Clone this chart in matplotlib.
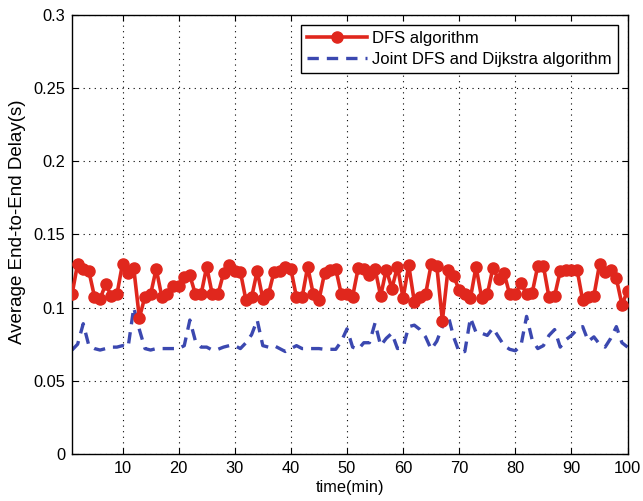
import matplotlib
matplotlib.use("Agg")
import matplotlib.pyplot as plt
from matplotlib.ticker import FixedLocator, FixedFormatter

plt.rcParams['font.family'] = ['Liberation Sans', 'DejaVu Sans']

time_min = list(range(1, 101))

dfs_delay = [
    0.109, 0.130, 0.1265, 0.125, 0.1075, 0.106, 0.116, 0.108, 0.109, 0.130,
    0.124, 0.127, 0.093, 0.1075, 0.109, 0.1265, 0.1075, 0.109, 0.1145, 0.115,
    0.121, 0.122, 0.109, 0.109, 0.128, 0.109, 0.109, 0.1235, 0.129, 0.125,
    0.1245, 0.105, 0.107, 0.125, 0.106, 0.109, 0.1245, 0.125, 0.128, 0.1265,
    0.107, 0.107, 0.128, 0.109, 0.105, 0.1235, 0.126, 0.1265, 0.109, 0.109,
    0.1075, 0.127, 0.1265, 0.1225, 0.1265, 0.108, 0.126, 0.113, 0.128, 0.1065,
    0.129, 0.104, 0.1075, 0.109, 0.1295, 0.1285, 0.091, 0.126, 0.1215, 0.112,
    0.109, 0.1065, 0.128, 0.1065, 0.109, 0.127, 0.1195, 0.1235, 0.109, 0.109,
    0.117, 0.109, 0.110, 0.1285, 0.1285, 0.107, 0.108, 0.125, 0.126, 0.126,
    0.126, 0.105, 0.1075, 0.108, 0.1295, 0.1245, 0.126, 0.120, 0.102, 0.1115,
]

joint_delay = [
    0.071, 0.075, 0.089, 0.074, 0.072, 0.071, 0.072, 0.073, 0.073, 0.074,
    0.073, 0.100, 0.085, 0.072, 0.071, 0.072, 0.072, 0.072, 0.072, 0.072,
    0.074, 0.0915, 0.077, 0.073, 0.073, 0.071, 0.0715, 0.073, 0.074, 0.074,
    0.072, 0.076, 0.0815, 0.0915, 0.074, 0.073, 0.074, 0.072, 0.070, 0.072,
    0.074, 0.072, 0.072, 0.072, 0.072, 0.0715, 0.0715, 0.0715, 0.077, 0.0855,
    0.073, 0.0715, 0.076, 0.076, 0.0895, 0.074, 0.079, 0.0825, 0.072, 0.073,
    0.087, 0.088, 0.085, 0.080, 0.0715, 0.077, 0.087, 0.095, 0.080, 0.0695,
    0.070, 0.093, 0.083, 0.0825, 0.081, 0.086, 0.080, 0.074, 0.0715, 0.0705,
    0.074, 0.094, 0.078, 0.072, 0.074, 0.081, 0.085, 0.073, 0.078, 0.081,
    0.085, 0.087, 0.077, 0.080, 0.075, 0.073, 0.079, 0.087, 0.076, 0.073,
]

x_ticks = [10, 20, 30, 40, 50, 60, 70, 80, 90, 100]
y_ticks = [0, 0.05, 0.1, 0.15, 0.2, 0.25, 0.3]
y_tick_labels = ["0", "0.05", "0.1", "0.15", "0.2", "0.25", "0.3"]

labels = ["DFS algorithm", "Joint DFS and Dijkstra algorithm"]

fig = plt.figure(figsize=(6.43, 5.01), dpi=100)
ax = fig.add_axes([0.112, 0.094, 0.864, 0.876])

ax.plot(time_min, dfs_delay, color='#E0271D', linewidth=2.6, marker='o',
        markersize=8, markeredgecolor='#E0271D', markerfacecolor='#E0271D',
        label=labels[0], zorder=3)
ax.plot(time_min, joint_delay, color='#3B48B0', linewidth=2.4,
        linestyle=(0, (3.4, 2.4)), label=labels[1], zorder=2)

ax.set_xlim(1, 100)
ax.set_ylim(0, 0.3)
ax.xaxis.set_major_locator(FixedLocator(x_ticks))
ax.yaxis.set_major_locator(FixedLocator(y_ticks))
ax.yaxis.set_major_formatter(FixedFormatter(y_tick_labels))

ax.grid(True, linestyle=(0, (1, 4)), color='black', linewidth=0.8)
ax.tick_params(direction='in', top=True, right=True, labelsize=11.8,
               length=4, width=0.8, pad=5)
for s in ax.spines.values():
    s.set_linewidth(1.0)
    s.set_color('black')

ax.set_xlabel("time(min)", fontsize=11.8, labelpad=3)
ax.set_ylabel("Average End-to-End Delay(s)", fontsize=13.5)
ax.yaxis.set_label_coords(-0.082, 0.53)

leg = ax.legend(loc='upper right', fontsize=12, frameon=True, fancybox=False,
                edgecolor='black', framealpha=1, borderpad=0.35,
                handlelength=3.6, handletextpad=0.3, labelspacing=0.35,
                borderaxespad=0.6)
leg.get_frame().set_linewidth(1.0)

fig.savefig("out.png", dpi=100)
